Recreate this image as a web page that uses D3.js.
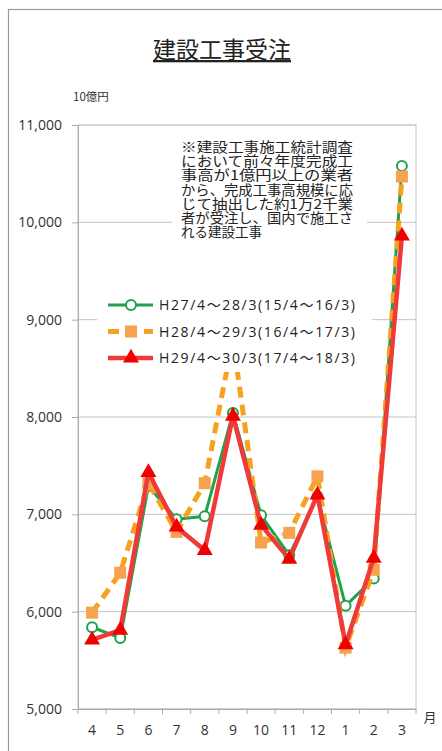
<!DOCTYPE html>
<html>
<head>
    <meta charset="utf-8">
    <title>建設工事受注</title>
    <script src="https://d3js.org/d3.v7.min.js"></script>
    <style>
        body { margin: 0; background: #fff; }
        text { font-family: "Noto Sans CJK JP", "Noto Sans", sans-serif; fill: #333; }
    </style>
</head>
<body>
    <svg width="442" height="751"></svg>
    <script>
        // Data (10億円)
        const months = ["4", "5", "6", "7", "8", "9", "10", "11", "12", "1", "2", "3"];
        const h27 = [5840, 5730, 7290, 6950, 6980, 8040, 6990, 6580, 7180, 6060, 6340, 10580];
        const h28 = [5990, 6400, 7320, 6820, 7320, 8800, 6710, 6810, 7390, 5630, 6430, 10470];
        const h29 = [5710, 5810, 7430, 6870, 6630, 8010, 6890, 6540, 7200, 5660, 6550, 9860];
        const seriesNames = ["H27/4～28/3(15/4～16/3)", "H28/4～29/3(16/4～17/3)", "H29/4～30/3(17/4～18/3)"];
        const yTicks = [5000, 6000, 7000, 8000, 9000, 10000, 11000];
        const noteLines = [
            "※建設工事施工統計調査",
            "において前々年度完成工",
            "事高が1億円以上の業者",
            "から、完成工事高規模に応",
            "じて抽出した約1万2千業",
            "者が受注し、国内で施工さ",
            "れる建設工事"
        ];

        const margin = {top: 125, right: 26, bottom: 42, left: 78},
              width = 442 - margin.left - margin.right,
              height = 751 - margin.top - margin.bottom;

        const svg = d3.select("svg");

        // outer frame
        svg.append("rect")
            .attr("x", 8.5).attr("y", 9.5)
            .attr("width", 450).attr("height", 760)
            .attr("fill", "none").attr("stroke", "#9a9a9a").attr("stroke-width", 1.2);

        // title
        svg.append("text")
            .attr("x", 222).attr("y", 58)
            .attr("text-anchor", "middle")
            .attr("font-size", 23)
            .attr("text-decoration", "underline")
            .style("fill", "#222")
            .text("建設工事受注");

        svg.append("text")
            .attr("x", 73).attr("y", 101)
            .attr("font-size", 11.5)
            .text("10億円");

        const g = svg.append("g")
            .attr("transform", `translate(${margin.left},${margin.top})`);

        const x = d3.scaleBand().domain(months).range([0, width]);
        const y = d3.scaleLinear().domain([5000, 11000]).range([height, 0]);

        // gridlines
        g.append("g")
            .selectAll("line")
            .data(yTicks)
            .join("line")
            .attr("x1", 0).attr("x2", width)
            .attr("y1", d => y(d)).attr("y2", d => y(d))
            .attr("stroke", "#c4c4c4");

        // plot border
        g.append("rect")
            .attr("width", width).attr("height", height)
            .attr("fill", "none").attr("stroke", "#c4c4c4");

        // Y axis
        const yAxis = g.append("g")
            .call(d3.axisLeft(y).tickValues(yTicks).tickFormat(d3.format(",")).tickSize(6).tickPadding(10));
        yAxis.select(".domain").attr("stroke", "#aaa");
        yAxis.selectAll(".tick line").attr("stroke", "#aaa");
        yAxis.selectAll("text")
            .attr("font-size", 14)
            .style("font-family", "'Open Sans', sans-serif")
            .style("fill", "#333");

        // X axis with ticks on band boundaries
        const xAxis = g.append("g")
            .attr("transform", `translate(0,${height})`)
            .call(d3.axisBottom(x).tickSize(0).tickPadding(16));
        xAxis.select(".domain").attr("stroke", "#aaa");
        xAxis.selectAll("text")
            .attr("font-size", 14)
            .style("font-family", "'Open Sans', sans-serif")
            .style("fill", "#333");
        xAxis.selectAll(".bound")
            .data(d3.range(months.length + 1))
            .join("line")
            .attr("x1", i => i * x.step()).attr("x2", i => i * x.step())
            .attr("y1", 0).attr("y2", 5)
            .attr("stroke", "#aaa");

        svg.append("text")
            .attr("x", 430).attr("y", 722)
            .attr("text-anchor", "middle")
            .attr("font-size", 13)
            .text("月");

        const cx = (d, i) => x(months[i]) + x.bandwidth() / 2;
        const line = d3.line().x(cx).y(d => y(d));

        // H27 green, circles
        g.append("path").datum(h27)
            .attr("d", line).attr("fill", "none")
            .attr("stroke", "#1ea24c").attr("stroke-width", 3);
        g.selectAll(".m27").data(h27).join("circle")
            .attr("cx", cx).attr("cy", d => y(d)).attr("r", 5)
            .attr("fill", "#fff").attr("stroke", "#1ea24c").attr("stroke-width", 2);

        // H28 orange dashed, squares
        g.append("path").datum(h28)
            .attr("d", line).attr("fill", "none")
            .attr("stroke", "#f7a21e").attr("stroke-width", 5)
            .attr("stroke-dasharray", "11,7");
        g.selectAll(".m28").data(h28).join("rect")
            .attr("x", (d, i) => cx(d, i) - 6).attr("y", d => y(d) - 6)
            .attr("width", 12).attr("height", 12)
            .attr("fill", "#f6a24e");

        // H29 red, triangles
        g.append("path").datum(h29)
            .attr("d", line).attr("fill", "none")
            .attr("stroke", "#f03a3a").attr("stroke-width", 4.5);
        g.selectAll(".m29").data(h29).join("path")
            .attr("d", d3.symbol().type(d3.symbolTriangle).size(110))
            .attr("transform", (d, i) => `translate(${cx(d, i)},${y(d)})`)
            .attr("fill", "#f00000");

        // annotation box
        const note = svg.append("g");
        note.append("rect")
            .attr("x", 172).attr("y", 139)
            .attr("width", 195).attr("height", 106)
            .attr("fill", "#fff");
        note.selectAll("text").data(noteLines).join("text")
            .attr("x", 181).attr("y", (d, i) => 152 + i * 14.2)
            .attr("font-size", 13.5)
            .attr("textLength", d => d.length > 10 ? 172 : null)
            .attr("lengthAdjust", "spacingAndGlyphs")
            .style("fill", "#222")
            .text(d => d);

        // legend
        const colors = ["#1ea24c", "#f7a21e", "#f03a3a"];
        const legend = svg.append("g");
        legend.append("rect")
            .attr("x", 97).attr("y", 290)
            .attr("width", 275).attr("height", 82)
            .attr("fill", "#fff");
        const rows = legend.selectAll(".row").data(seriesNames).join("g")
            .attr("transform", (d, i) => `translate(0,${305 + i * 26.5})`);
        rows.append("line")
            .attr("x1", 108).attr("x2", 153)
            .attr("stroke", (d, i) => colors[i])
            .attr("stroke-width", (d, i) => [3, 5, 4.5][i])
            .attr("stroke-dasharray", (d, i) => i === 1 ? "11,7" : null);
        rows.filter((d, i) => i === 0).append("circle")
            .attr("cx", 131).attr("r", 5)
            .attr("fill", "#fff").attr("stroke", colors[0]).attr("stroke-width", 2);
        rows.filter((d, i) => i === 1).append("rect")
            .attr("x", 125).attr("y", -6).attr("width", 12).attr("height", 12)
            .attr("fill", "#f6a24e");
        rows.filter((d, i) => i === 2).append("path")
            .attr("d", d3.symbol().type(d3.symbolTriangle).size(110))
            .attr("transform", "translate(131,0)")
            .attr("fill", "#f00000");
        rows.append("text")
            .attr("x", 159).attr("dy", "0.36em")
            .attr("font-size", 14)
            .attr("textLength", 196)
            .style("font-family", "'Open Sans', 'Noto Sans CJK JP', sans-serif")
            .style("fill", "#222")
            .text(d => d);
    </script>
</body>
</html>
